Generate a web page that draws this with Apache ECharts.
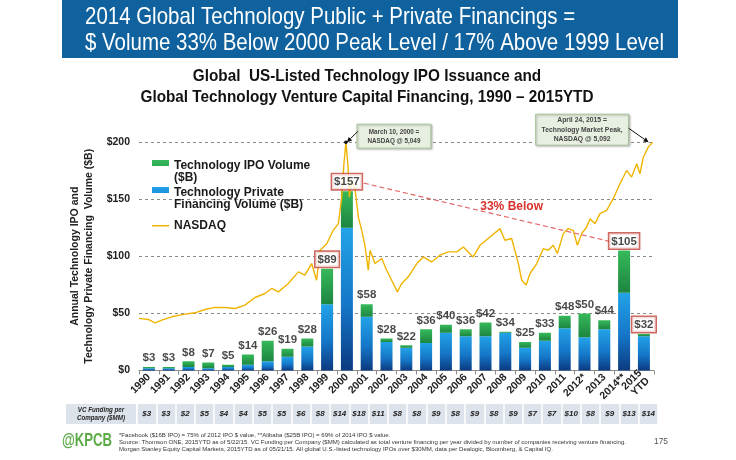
<!DOCTYPE html>
<html><head><meta charset="utf-8">
<script src="https://cdn.jsdelivr.net/npm/echarts@6/dist/echarts.min.js"></script>
<style>html,body{margin:0;padding:0;background:#fff}#c{width:736px;height:460px}</style>
</head><body><div id="c"></div>
<script>
// ---------- data ----------
const years = ['1990','1991','1992','1993','1994','1995','1996','1997','1998','1999','2000','2001','2002','2003','2004','2005','2006','2007','2008','2009','2010','2011','2012*','2013','2014**','2015\nYTD'];
const privateVol = [2,2,3,2,3,5,8,12,21,58,125,47,25,20,24,33,30,30,33,20,26,37,29,36,68,30];
const ipoVol     = [1,1,5,5,2,9,18,7,7,31,32,11,3,2,12,7,6,12,1,5,7,11,21,8,37,2];
const boxedYears = ['1999','2000','2014**','2015\nYTD'];
const yTicks = [0,50,100,150,200];
const vcFunding = [3,3,2,5,4,4,5,5,6,8,14,18,11,8,8,9,8,9,8,9,7,7,10,8,9,13,14];
// NASDAQ trace, [decimal year, value on the chart's $B scale]
const nasdaq = [
 [1990.00,45.6],[1990.47,44.7],[1990.81,41.7],[1991.15,44.1],[1991.65,47.0],[1992.32,49.3],[1992.83,50.5],
 [1993.33,53.4],[1993.84,55.2],[1994.34,55.2],[1994.85,54.3],[1995.35,57.2],[1995.86,63.9],[1996.36,67.4],
 [1996.70,71.8],[1997.04,68.8],[1997.54,76.2],[1998.05,86.3],[1998.38,83.4],[1998.72,93.6],[1998.97,79.0],
 [1999.14,105.0],[1999.48,111.0],[1999.81,122.7],[2000.07,128.5],[2000.24,151.8],[2000.35,181.0],[2000.45,199.8],
 [2000.56,178.0],[2000.62,151.8],[2000.74,166.4],[2000.91,159.0],[2001.08,134.0],[2001.25,122.7],[2001.41,109.6],
 [2001.58,87.8],[2001.67,105.2],[2001.92,93.6],[2002.26,98.0],[2002.51,87.8],[2002.76,79.0],[2003.05,68.8],
 [2003.27,76.2],[2003.60,82.0],[2004.03,93.6],[2004.36,99.4],[2004.78,95.0],[2005.20,100.9],[2005.62,103.8],
 [2006.05,103.8],[2006.38,108.1],[2006.88,99.4],[2007.22,109.6],[2007.73,116.9],[2008.23,124.2],[2008.48,114.0],
 [2008.82,115.5],[2009.16,93.6],[2009.33,79.0],[2009.55,74.7],[2009.75,84.9],[2010.09,93.6],[2010.42,106.7],
 [2010.67,105.2],[2010.92,109.6],[2011.13,102.4],[2011.43,119.8],[2011.68,124.2],[2011.93,122.7],[2012.14,109.6],
 [2012.36,119.8],[2012.61,125.6],[2012.78,132.9],[2013.03,128.5],[2013.28,137.3],[2013.62,140.2],[2013.95,150.4],
 [2014.29,163.5],[2014.63,175.1],[2014.88,169.3],[2015.14,181.0],[2015.30,172.2],[2015.47,186.7],[2015.72,195.5],
 [2015.94,199.8]
];

// ---------- styles ----------
const SANS = "'Liberation Sans',Arial,Helvetica,sans-serif";
const IPO_NAME = 'Technology IPO Volume\n($B)';
const PRI_NAME = 'Technology Private\nFinancing Volume ($B)';
const blueGrad = new echarts.graphic.LinearGradient(0,0,0,1,[{offset:0,color:'#22a3e8'},{offset:0.55,color:'#1576c8'},{offset:1,color:'#0b3a80'}]);
const greenGrad = new echarts.graphic.LinearGradient(0,0,0,1,[{offset:0,color:'#36b95a'},{offset:1,color:'#1c8540'}]);
const ICON_BAR = 'path://M0,0H17V6H0Z M0,24H0.01V24.01H0Z';
const ICON_LINE = 'path://M0,11H17V12.6H0Z M0,0H0.01V0.01H0Z M0,24H0.01V24.01H0Z';

// narrow-font emulation: horizontal scale so the longest line reaches the reference width
const mctx = document.createElement('canvas').getContext('2d');
function narrowScale(text, size, weight, style, target){
  mctx.font = (style||'normal') + ' ' + (weight||'normal') + ' ' + size + 'px ' + SANS;
  const w = Math.max.apply(null, text.split('\n').map(t=>mctx.measureText(t).width));
  return target / w;
}

const chart = echarts.init(document.getElementById('c'), null, {renderer:'canvas'});
const option = {
  animation:false,
  backgroundColor:'#fff',
  legend:{
    orient:'vertical', left:152, top:160, padding:0, itemWidth:17, itemHeight:24, itemGap:3,
    selectedMode:false,
    textStyle:{fontFamily:SANS, fontWeight:'bold', fontSize:12, color:'#1a1a1a', lineHeight:12},
    data:[{name:IPO_NAME, icon:ICON_BAR},{name:PRI_NAME, icon:ICON_BAR},{name:'NASDAQ', icon:ICON_LINE}]
  },
  grid:[
    {left:139, right:82.2, top:142, bottom:89.5},
    {left:137, right:78, top:404, height:20}
  ],
  xAxis:[
    {type:'category', gridIndex:0, data:years,
     axisLine:{lineStyle:{color:'#8c8c8c', width:1}},
     axisTick:{show:true, length:4, lineStyle:{color:'#8c8c8c'}},
     axisLabel:{interval:0, rotate:45, margin:5, fontFamily:SANS, fontWeight:'bold', fontSize:10.5, color:'#222', lineHeight:11}},
    {type:'value', gridIndex:0, min:1990, max:2016, show:false},
    {type:'category', gridIndex:1, position:'top', data:vcFunding.map(v=>'$'+v),
     axisLine:{show:false}, axisTick:{show:false},
     axisLabel:{inside:true, margin:6, interval:0, fontFamily:SANS, fontStyle:'italic', fontWeight:'bold', fontSize:8, color:'#222'},
     splitArea:{show:true, interval:0, areaStyle:{color:['#dce3ea']}},
     splitLine:{show:true, interval:0, lineStyle:{color:'#ffffff', width:1.5}}}
  ],
  yAxis:[
    {type:'value', gridIndex:0, min:yTicks[0], max:yTicks[yTicks.length-1], interval:yTicks[1]-yTicks[0],
     name:'Annual Technology IPO and\nTechnology Private Financing  Volume ($B)',
     nameLocation:'middle', nameGap:35,
     nameTextStyle:{fontFamily:SANS, fontWeight:'bold', fontSize:10.5, lineHeight:14, color:'#222'},
     axisLine:{show:false}, axisTick:{show:false},
     axisLabel:{formatter:'${value}', margin:9, fontFamily:SANS, fontWeight:'bold', fontSize:10.5, color:'#222'},
     splitLine:{show:true, lineStyle:{color:'#8a8a8a', type:[3,3], width:1}}},
    {type:'value', gridIndex:1, min:0, max:1, show:false}
  ],
  series:[
    {name:PRI_NAME, type:'bar', stack:'vol', xAxisIndex:0, yAxisIndex:0, barWidth:12, z:2,
     itemStyle:{color:blueGrad}, data:privateVol},
    {name:IPO_NAME, type:'bar', stack:'vol', xAxisIndex:0, yAxisIndex:0, barWidth:12, z:2,
     itemStyle:{color:greenGrad}, data:ipoVol},
    {name:'NASDAQ', type:'line', xAxisIndex:1, yAxisIndex:0, z:3, showSymbol:false, symbol:'none',
     itemStyle:{color:'#f0b400'}, lineStyle:{color:'#f0b400', width:1.4}, data:nasdaq},
    {name:'totals', type:'scatter', xAxisIndex:0, yAxisIndex:0, z:5, symbolSize:0, silent:true,
     label:{show:true, position:'top', distance:3, formatter:p=>'$'+p.value[1],
            fontFamily:SANS, fontWeight:'bold', fontSize:11.5, color:'#1a1a1a'},
     data:years.map((y,i)=>{
       const d = {value:[i, privateVol[i]+ipoVol[i]]};
       if (boxedYears.indexOf(y) >= 0) d.label = {distance:2, backgroundColor:'#fff', borderColor:'#c0443a', borderWidth:1.5, padding:[2,2,1,2]};
       return d;
     })}
  ]
};
chart.setOption(option);

// ---------- annotations (positioned from data via the axes) ----------
const toPx = (xi, v) => chart.convertToPixel({xAxisIndex:xi, yAxisIndex:0}, v);
const early = nasdaq.filter(p=>p[0]<2005);
const peak = early.reduce((a,b)=>b[1]>a[1]?b:a);
const last = nasdaq[nasdaq.length-1];
const pPeak = toPx(1, peak);
const pLast = toPx(1, last);
const i2000 = years.indexOf('2000'), i2014 = years.indexOf('2014**');
const p157 = toPx(0, [i2000, privateVol[i2000]+ipoVol[i2000]]);
const p105 = toPx(0, [i2014, privateVol[i2014]+ipoVol[i2014]]);

function arrow(from, to, color){
  const dx = to[0]-from[0], dy = to[1]-from[1], L = Math.hypot(dx,dy), ux = dx/L, uy = dy/L;
  const h = 5, w = 2.5;
  const bx = to[0]-ux*h, by = to[1]-uy*h;
  return [
    {type:'line', z:20, shape:{x1:from[0], y1:from[1], x2:bx, y2:by}, style:{stroke:color, lineWidth:1}},
    {type:'polygon', z:20, shape:{points:[[to[0],to[1]],[bx-uy*w, by+ux*w],[bx+uy*w, by-ux*w]]}, style:{fill:color}}
  ];
}
function ntext(x, y, text, size, weight, style, target, extra){
  const s = narrowScale(text, size, weight, style, target);
  return {type:'text', z:(extra&&extra.z)||16, x:x, y:y, scaleX:s,
    style:Object.assign({text:text, fontFamily:SANS, fontSize:size, fontWeight:weight||'normal', fontStyle:style||'normal'}, extra||{})};
}
const boxStyle = {fill:'#e7efe0', stroke:'#a9c39a', lineWidth:1, shadowBlur:2, shadowColor:'rgba(0,0,0,0.25)', shadowOffsetX:1, shadowOffsetY:1};

const mBox = {x:pPeak[0]+11, y:pPeak[1]-18, w:74, h:24};
const aBox = {x:pLast[0]-117, y:pLast[1]-28, w:93, h:31};
const ls = [p157[0]+17, p157[1]-8], le = [p105[0]-14, p105[1]-9];
const tPos = [ls[0]+(le[0]-ls[0])*0.6, ls[1]+(le[1]-ls[1])*0.6-11];

const HEAD = '2014 Global Technology Public + Private Financings =\n$ Volume 33% Below 2000 Peak Level / 17% Above 1999 Level';
const TITLE = 'Global  US-Listed Technology IPO Issuance and\nGlobal Technology Venture Capital Financing, 1990 – 2015YTD';
const FOOT = '*Facebook ($16B IPO) = 75% of 2012 IPO $ value, **Alibaba ($25B IPO) = 69% of 2014 IPO $ value.\nSource: Thomson ONE, 2015YTD as of 5/22/15. VC Funding per Company ($MM) calculated as total venture financing per year divided by number of companies receiving venture financing.\nMorgan Stanley Equity Capital Markets, 2015YTD as of 05/21/15. All global U.S.-listed technology IPOs over $30MM, data per Dealogic, Bloomberg, & Capital IQ.';

const graphics = [
  {type:'rect', z:-10, shape:{x:62, y:0, width:616, height:58}, style:{fill:'#10629e'}},
  ntext(85, 30, HEAD, 24, 'normal', 'normal', 579, {fill:'#fff', lineHeight:26, verticalAlign:'middle', z:2}),
  ntext(367, 87, TITLE, 16.5, 'bold', 'normal', 453, {fill:'#111', lineHeight:20.5, align:'center', verticalAlign:'middle', z:2}),
  // NASDAQ peak notes
  {type:'rect', z:15, shape:{x:mBox.x, y:mBox.y, width:mBox.w, height:mBox.h}, style:boxStyle},
  ntext(mBox.x+mBox.w/2, mBox.y+mBox.h/2, 'March 10, 2000 =\nNASDAQ @ 5,049', 8, 'bold', 'normal', 53, {fill:'#444', align:'center', verticalAlign:'middle', lineHeight:9.5}),
  {type:'circle', z:21, shape:{cx:pPeak[0], cy:pPeak[1], r:1.8}, style:{fill:'#111'}},
  ...arrow([mBox.x+1, mBox.y+7], [pPeak[0]+1, pPeak[1]], '#111'),
  {type:'rect', z:15, shape:{x:aBox.x, y:aBox.y, width:aBox.w, height:aBox.h}, style:boxStyle},
  ntext(aBox.x+aBox.w/2, aBox.y+aBox.h/2, 'April 24, 2015 =\nTechnology Market Peak,\nNASDAQ @ 5,092', 8, 'bold', 'normal', 81, {fill:'#444', align:'center', verticalAlign:'middle', lineHeight:9.5}),
  ...arrow([aBox.x+aBox.w, aBox.y+14], [pLast[0]-4, pLast[1]], '#111'),
  // 33% below connector
  {type:'line', z:4, shape:{x1:ls[0], y1:ls[1], x2:le[0], y2:le[1]}, style:{stroke:'#e36a6a', lineWidth:1.2, lineDash:[5,3]}},
  {type:'text', z:6, x:tPos[0], y:tPos[1], style:{text:'33% Below', fontFamily:SANS, fontWeight:'bold', fontSize:12, fill:'#d8302a', align:'center', verticalAlign:'middle'}},
  // VC funding row label cell
  {type:'rect', z:0, shape:{x:66, y:404, width:70, height:20}, style:{fill:'#dce3ea'}},
  ntext(101, 414, 'VC Funding per\nCompany ($MM)', 7, 'bold', 'italic', 48, {fill:'#222', lineHeight:8.5, align:'center', verticalAlign:'middle', z:1}),
  // footer
  ntext(62, 441, '@KPCB', 19, 'bold', 'normal', 50, {fill:'#5aab46', verticalAlign:'middle', z:1}),
  ntext(119, 432, FOOT, 6, 'normal', 'normal', 507, {fill:'#333', lineHeight:7, z:1}),
  ntext(654, 441, '175', 9.5, 'normal', 'normal', 14, {fill:'#555', verticalAlign:'middle', z:1})
];
chart.setOption({graphic:graphics});
</script></body></html>
